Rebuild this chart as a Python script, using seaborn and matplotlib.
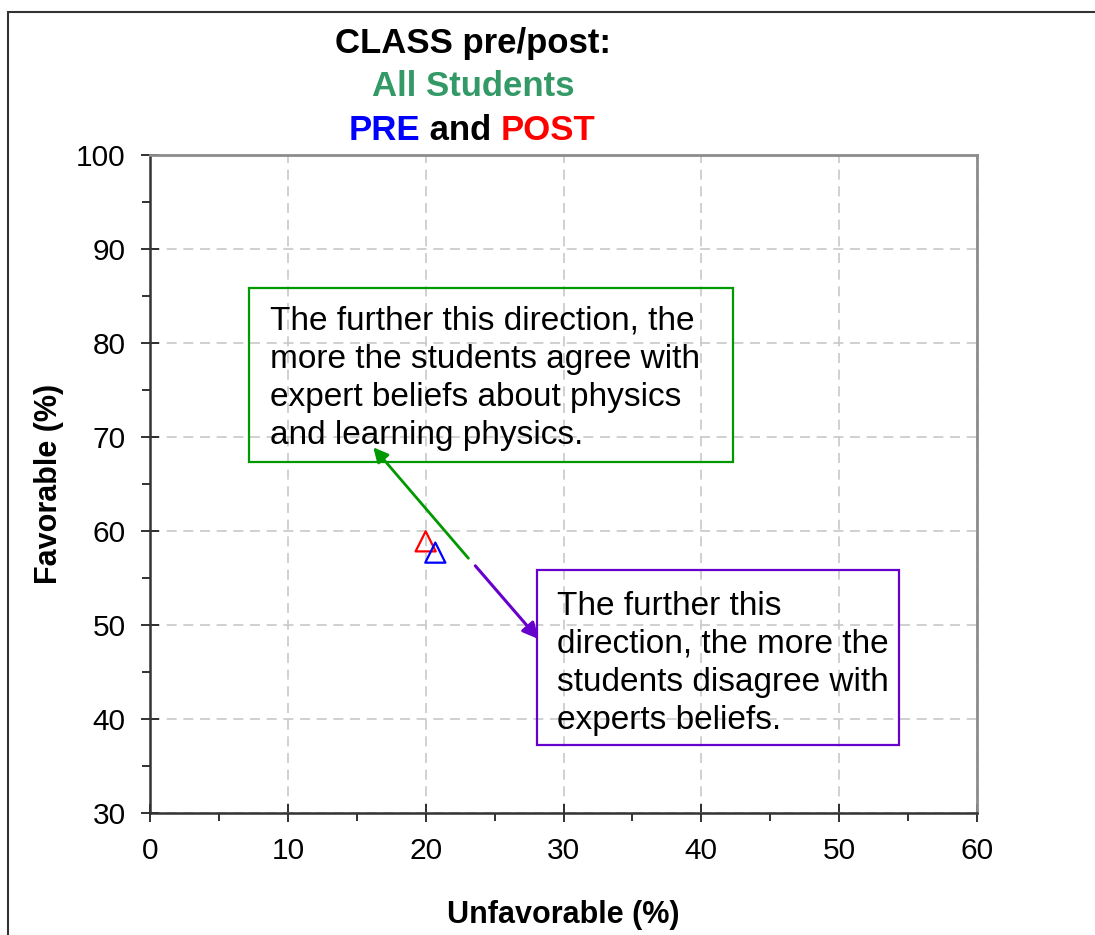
import numpy as np
import pandas as pd
import seaborn as sns
import matplotlib.pyplot as plt
from matplotlib.patches import Rectangle
from matplotlib.ticker import MultipleLocator

sns.set_theme(style="white")
plt.rcParams['font.family'] = ['Liberation Sans', 'DejaVu Sans']

# data
series = ["POST", "PRE"]
unfavorable = [20.0, 20.7]
favorable = [58.9, 57.7]
series_colors = {"PRE": "#0000FF", "POST": "#FF0000"}

# arrow (start -> tip) in data units
agree_arrow = [(23.1, 57.1), (16.2, 68.9)]
disagree_arrow = [(23.6, 56.3), (28.2, 48.5)]

agree_text = ("The further this direction, the\nmore the students agree with\n"
              "expert beliefs about physics\nand learning physics.")
disagree_text = ("The further this\ndirection, the more the\n"
                 "students disagree with\nexperts beliefs.")

df = pd.DataFrame({"series": series, "unfav": unfavorable, "fav": favorable})

fig = plt.figure(figsize=(10.95, 9.35), dpi=100)
ax = fig.add_axes([150/1095, 1 - 813/935, 827/1095, 658/935])

sns.scatterplot(data=df, x="unfav", y="fav", hue="series", palette=series_colors,
                marker="^", s=210, linewidth=1.6, legend=False, ax=ax)
pts = ax.collections[-1]
pts.set_facecolor("none")
pts.set_edgecolor([series_colors[s] for s in series])

ax.set_xlim(0, 60)
ax.set_ylim(30, 100)
ax.xaxis.set_major_locator(MultipleLocator(10))
ax.xaxis.set_minor_locator(MultipleLocator(5))
ax.yaxis.set_major_locator(MultipleLocator(10))
ax.yaxis.set_minor_locator(MultipleLocator(5))
ax.tick_params(which="major", direction="inout", length=13, width=1.3,
               color="#222222", labelsize=21.5, labelcolor="black", pad=11,
               bottom=True, left=True)
ax.tick_params(which="minor", direction="out", length=6, width=1.3,
               color="#222222", bottom=True, left=True)
ax.grid(True, which="major", linestyle=(0, (6, 4)), color="#C8C8C8", lw=1.2)

for side in ["left", "bottom"]:
    ax.spines[side].set_color("#333333")
    ax.spines[side].set_linewidth(1.8)
for side in ["top", "right"]:
    ax.spines[side].set_color("#8C8C8C")
    ax.spines[side].set_linewidth(2)

ax.set_xlabel("Unfavorable (%)", fontsize=22, fontweight="bold", color="black", labelpad=25)
ax.set_ylabel("Favorable (%)", fontsize=22, fontweight="bold", color="black", labelpad=9)

# arrows
ax.annotate("", xy=agree_arrow[1], xytext=agree_arrow[0],
            arrowprops=dict(arrowstyle="-|>", color="#009900", lw=2,
                            mutation_scale=22, shrinkA=0, shrinkB=0))
ax.annotate("", xy=disagree_arrow[1], xytext=disagree_arrow[0],
            arrowprops=dict(arrowstyle="-|>", color="#6600CC", lw=2.2,
                            mutation_scale=24, shrinkA=0, shrinkB=0))

# text boxes
ax.add_patch(Rectangle((7.18, 67.34), 35.12, 18.5, fill=False, ec="#009900", lw=1.6, zorder=4))
ax.text(8.7, 83.95, agree_text, fontsize=24, va="top", ha="left",
        linespacing=1.3, color="black", zorder=5)
ax.add_patch(Rectangle((28.08, 37.23), 26.27, 18.62, fill=False, ec="#6600CC", lw=1.6, zorder=4))
ax.text(29.5, 53.65, disagree_text, fontsize=24, va="top", ha="left",
        linespacing=1.3, color="black", zorder=5)

# title
fig.text(473/1095, 1 - 44/935, "CLASS pre/post:", fontsize=25, fontweight="bold",
         ha="center", va="center", color="black")
fig.text(473/1095, 1 - 87/935, "All Students", fontsize=25, fontweight="bold",
         ha="center", va="center", color="#339966")

parts = [("PRE", "#0000FF"), (" and ", "black"), ("POST", "#FF0000")]
renderer = fig.canvas.get_renderer()
texts = [fig.text(0, 1 - 130/935, p, fontsize=25, fontweight="bold",
                  ha="left", va="center", color=c) for p, c in parts]
widths = [t.get_window_extent(renderer).width for t in texts]
x = 472 - sum(widths) / 2
for t, w in zip(texts, widths):
    t.set_x(x / 1095)
    x += w

# outer frame
fig.patches.append(Rectangle((8/1095, -0.1), 1.2, 1.1 - 12/935, transform=fig.transFigure,
                             fill=False, ec="#333333", lw=1.5))

plt.savefig("out.png", dpi=100)
